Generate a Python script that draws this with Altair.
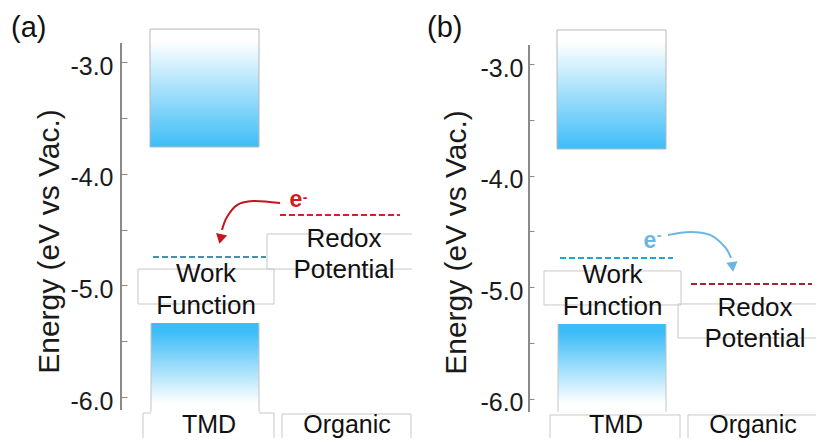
import altair as alt
import pandas as pd

# ---------------- data (energies in eV vs vacuum, x in schematic column units 0..404) -------------
panel_tags = ["(a)", "(b)"]
tag_x = [3, 15]
tag_e = [-2.776, -2.755]
y_domains = [[-6.367, -2.516], [-6.3525, -2.495]]
tick_values = [-3.0, -3.5, -4.0, -4.5, -5.0, -5.5, -6.0]
axis_x = [113, 117]
axis_e = [[-2.830, -6.116], [-2.827, -6.119]]

# conduction band / valence band of the TMD
cb_x = [[142, 251], [145, 254]]
cb_e = [[-2.705, -3.761], [-2.692, -3.760]]
vb_x = [[143, 251], [146, 254]]
vb_e = [[-5.337, -6.152], [-5.330, -6.137]]

# work function / redox potential levels
wf_x = [[145, 258], [148, 261]]
wf_e = [-4.746, -4.738]
wf_color = ["#4A8FA8", "#22A4D8"]
redox_x = [[272, 392], [279, 400]]
redox_e = [-4.370, -4.971]
redox_color = ["#D92020", "#A3262C"]

# label boxes
wf_box_x = [[130, 266], [132, 269]]
wf_box_e = [[-4.854, -5.167], [-4.854, -5.159]]
redox_box_x = [[259, 412], [266, 418]]
redox_box_e = [[-4.540, -4.854], [-5.150, -5.455]]
tmd_box_x = [[135, 266], [138, 268]]
org_box_x = [[274, 403], [276, 406]]
col_box_top = [[-6.143, -6.152], [-6.146, -6.146]]
col_box_bottom = -6.8

# labels
wf_text_x = [198, 200.5]
wf_text_e = [[-4.880, -5.167], [-4.868, -5.159]]
redox_text_x = [336, 343]
redox_text_e = [[-4.567, -4.845], [-5.168, -5.446]]
col_names = ["TMD", "Organic"]
col_text_x = [[201, 339], [204, 341]]
col_text_e = [-6.322, -6.308]

# electron and arrow
e_x = [288, 238]
e_e = [-4.245, -4.590]
sup_x = [297, 247]
sup_e = [-4.218, -4.540]
e_color = ["#D7191C", "#6DB6E0"]
arrow_color = ["#C4161C", "#6BB7E0"]
arrow_x = [[272, 245, 229, 219, 214], [256, 278, 298, 313, 319]]
arrow_e = [[-4.263, -4.245, -4.281, -4.388, -4.504], [-4.531, -4.504, -4.531, -4.639, -4.738]]
head_x = [212.5, 320.5]
head_e = [-4.585, -4.818]
head_angle = [13, 353]

# ---------------- layout constants ----------------
W, H = 404, 430
axis_offset = [-119, -122]
tick_size = [6, 5]
label_pad = [8, 6]
title_pos = [[-78, 233], [-78, 234]]
FONT = "Liberation Sans"
BLUE = "#3DBDF7"
BOXGRAY = "#c8c8c8"


def panel(i):
    xs = alt.Scale(domain=[0, W], nice=False, zero=False)
    ys = alt.Scale(domain=y_domains[i], nice=False, zero=False)
    ax = alt.Axis(
        values=tick_values,
        labelExpr="datum.value % 1 == 0 ? '-' + format(abs(datum.value), '.1f') : ''",
        domain=False, grid=False, tickSize=tick_size[i], tickColor="#8a8a8a", tickWidth=1,
        labelFont=FONT, labelFontSize=25, labelColor="#1a1a1a", labelPadding=label_pad[i],
        labelOffset=4,
        offset=axis_offset[i], title="Energy (eV vs Vac.)", titleFont=FONT,
        titleFontSize=30, titleFontWeight="normal", titleColor="#1a1a1a",
        titleAngle=270, titleX=title_pos[i][0], titleY=title_pos[i][1],
        titleAlign="center", titleBaseline="middle",
    )

    def X(f):
        return alt.X(f, type="quantitative", scale=xs, axis=None)

    def Y(f):
        return alt.Y(f, type="quantitative", scale=ys, axis=ax)

    boxes = pd.DataFrame({
        "x": [wf_box_x[i][0], redox_box_x[i][0], tmd_box_x[i][0], org_box_x[i][0]],
        "x2": [wf_box_x[i][1], redox_box_x[i][1], tmd_box_x[i][1], org_box_x[i][1]],
        "y": [wf_box_e[i][0], redox_box_e[i][0], col_box_top[i][0], col_box_top[i][1]],
        "y2": [wf_box_e[i][1], redox_box_e[i][1], col_box_bottom, col_box_bottom],
    })
    box_layer = alt.Chart(boxes).mark_rect(
        fillOpacity=0, stroke=BOXGRAY, strokeWidth=1, clip=True
    ).encode(x=X("x"), x2="x2", y=Y("y"), y2="y2")

    cb = pd.DataFrame({"x": [cb_x[i][0]], "x2": [cb_x[i][1]], "y": [cb_e[i][0]], "y2": [cb_e[i][1]]})
    cb_grad = alt.Gradient(
        gradient="linear",
        stops=[alt.GradientStop(color="#ffffff", offset=0),
               alt.GradientStop(color="#ffffff", offset=0.1),
               alt.GradientStop(color=BLUE, offset=1)],
        x1=0, x2=0, y1=0, y2=1)
    cb_layer = alt.Chart(cb).mark_rect(fill=cb_grad, stroke="#b8b8b8", strokeWidth=1).encode(
        x=X("x"), x2="x2", y=Y("y"), y2="y2")

    vb = pd.DataFrame({"x": [vb_x[i][0]], "x2": [vb_x[i][1]], "y": [vb_e[i][0]], "y2": [vb_e[i][1]]})
    vb_grad = alt.Gradient(
        gradient="linear",
        stops=[alt.GradientStop(color=BLUE, offset=0),
               alt.GradientStop(color=BLUE, offset=0.1),
               alt.GradientStop(color="#ffffff", offset=0.88),
               alt.GradientStop(color="#ffffff", offset=1)],
        x1=0, x2=0, y1=0, y2=1)
    vb_layer = alt.Chart(vb).mark_rect(fill=vb_grad).encode(
        x=X("x"), x2="x2", y=Y("y"), y2="y2")

    vb_sides = pd.DataFrame({"x": vb_x[i], "y": [vb_e[i][0]] * 2, "y2": [vb_e[i][1] + 0.02] * 2})
    vb_side_layer = alt.Chart(vb_sides).mark_rule(color="#c4c4c4", strokeWidth=1).encode(
        x=X("x"), y=Y("y"), y2="y2")

    axl = pd.DataFrame({"x": [axis_x[i]], "y": [axis_e[i][0]], "y2": [axis_e[i][1]]})
    axis_layer = alt.Chart(axl).mark_rule(color="#8a8a8a", strokeWidth=2).encode(
        x=X("x"), y=Y("y"), y2="y2")

    levels = pd.DataFrame({
        "x": [wf_x[i][0], redox_x[i][0]], "x2": [wf_x[i][1], redox_x[i][1]],
        "y": [wf_e[i], redox_e[i]], "c": [wf_color[i], redox_color[i]],
    })
    level_layer = alt.Chart(levels).mark_rule(strokeDash=[6, 3], strokeWidth=2).encode(
        x=X("x"), x2="x2", y=Y("y"), color=alt.Color("c:N", scale=None))

    labels = pd.DataFrame({
        "t": ["Work", "Function", "Redox", "Potential"],
        "x": [wf_text_x[i], wf_text_x[i], redox_text_x[i], redox_text_x[i]],
        "y": [wf_text_e[i][0], wf_text_e[i][1], redox_text_e[i][0], redox_text_e[i][1]],
    })
    label_layer = alt.Chart(labels).mark_text(
        font=FONT, fontSize=26, color="#111111", align="center", baseline="middle", dy=2
    ).encode(x=X("x"), y=Y("y"), text="t:N")

    cols = pd.DataFrame({"t": col_names, "x": col_text_x[i], "y": [col_text_e[i]] * 2})
    col_layer = alt.Chart(cols).mark_text(
        font=FONT, fontSize=25, color="#111111", align="center", baseline="alphabetic"
    ).encode(x=X("x"), y=Y("y"), text="t:N")

    tag = pd.DataFrame({"t": [panel_tags[i]], "x": [tag_x[i]], "y": [tag_e[i]]})
    tag_layer = alt.Chart(tag).mark_text(
        font=FONT, fontSize=29, color="#111111", align="left", baseline="alphabetic"
    ).encode(x=X("x"), y=Y("y"), text="t:N")

    el = pd.DataFrame({"t": ["e"], "x": [e_x[i]], "y": [e_e[i]]})
    e_layer = alt.Chart(el).mark_text(
        font=FONT, fontSize=23, fontWeight="bold", color=e_color[i], align="center", baseline="middle", dy=-1
    ).encode(x=X("x"), y=Y("y"), text="t:N")
    sup = pd.DataFrame({"t": ["-"], "x": [sup_x[i]], "y": [sup_e[i]]})
    sup_layer = alt.Chart(sup).mark_text(
        font=FONT, fontSize=14, fontWeight="bold", color=e_color[i], align="center", baseline="middle"
    ).encode(x=X("x"), y=Y("y"), text="t:N")

    arr = pd.DataFrame({"x": arrow_x[i], "y": arrow_e[i], "o": list(range(len(arrow_x[i])))})
    arrow_layer = alt.Chart(arr).mark_line(
        interpolate="cardinal", strokeWidth=2, color=arrow_color[i]
    ).encode(x=X("x"), y=Y("y"), order="o:Q")
    head = pd.DataFrame({"x": [head_x[i]], "y": [head_e[i]]})
    head_layer = alt.Chart(head).mark_point(
        shape="triangle-down", filled=True, size=130, opacity=1, color=arrow_color[i], angle=head_angle[i]
    ).encode(x=X("x"), y=Y("y"))

    return alt.layer(
        box_layer, cb_layer, vb_layer, vb_side_layer, axis_layer, level_layer,
        label_layer, col_layer, tag_layer, e_layer, sup_layer, arrow_layer, head_layer,
    ).properties(width=W, height=H)


chart = alt.hconcat(panel(0), panel(1), spacing=0).properties(
    padding=0, background="white"
).configure_view(stroke=None)

chart.save("out.html", embed_options={"renderer": "svg", "actions": False})
